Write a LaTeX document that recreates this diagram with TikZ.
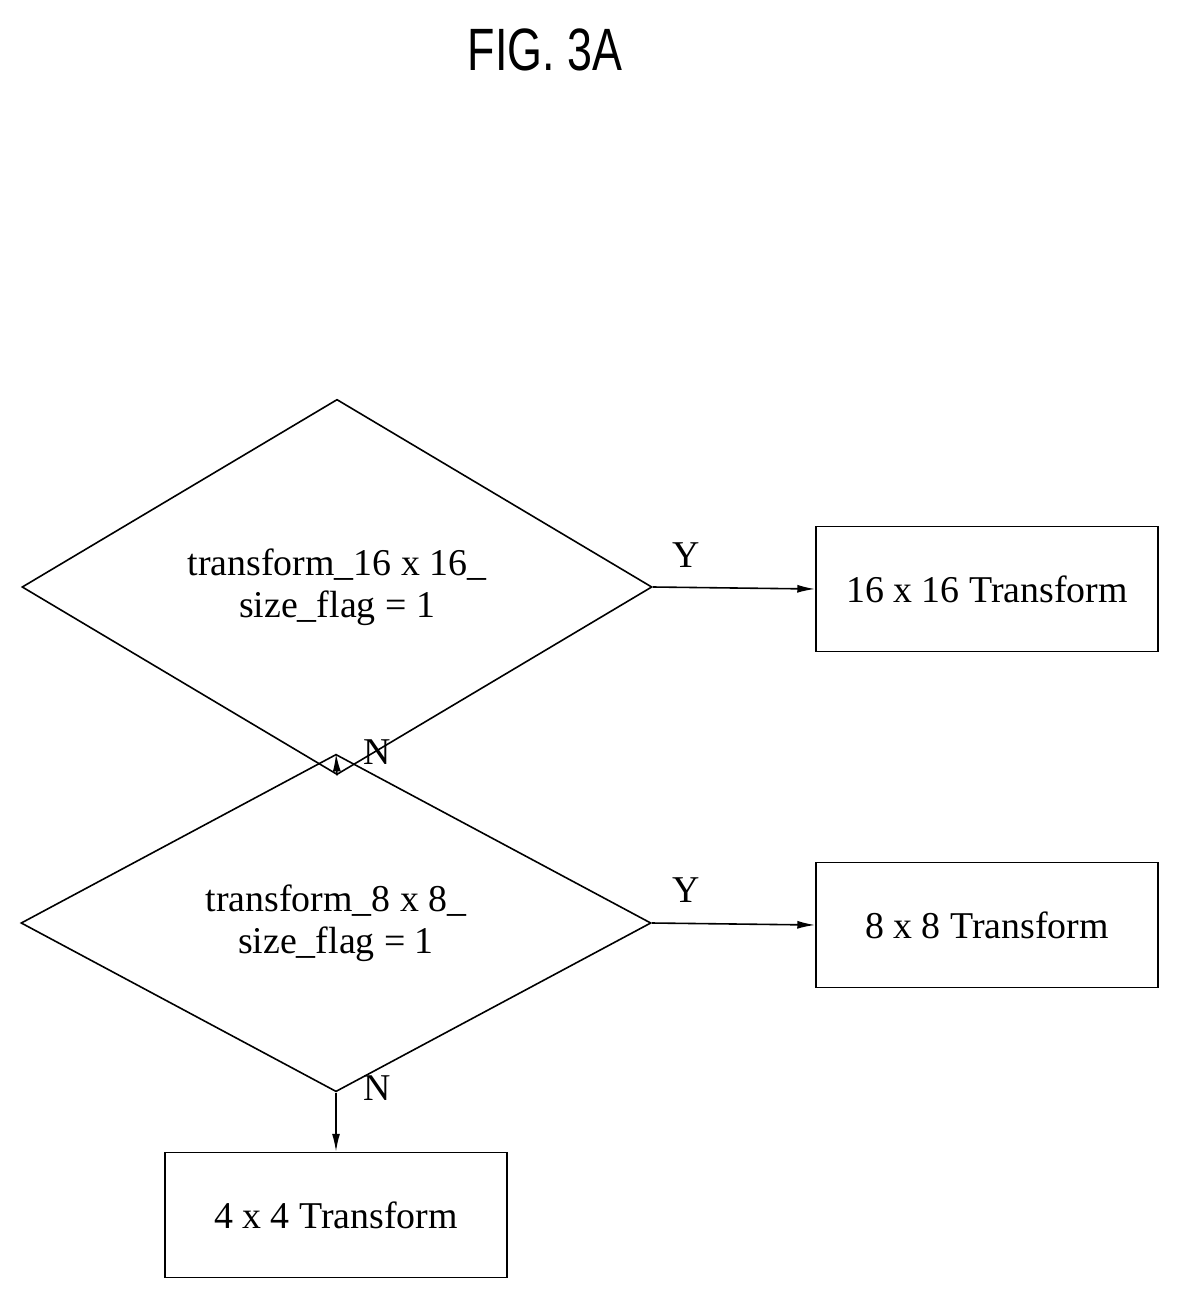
\documentclass[tikz,border=0pt]{standalone}
\usepackage{fontspec}
\setmainfont{Liberation Serif}
\newfontfamily\figfont{Liberation Sans}[FakeStretch=0.75]
\usetikzlibrary{shapes.geometric,arrows.meta}
\begin{document}
\begin{tikzpicture}[x=0.5bp,y=-0.5bp,
	decision/.style={diamond,draw,line width=0.8pt,inner sep=0pt,minimum width=315bp,minimum height=106.5bp,align=center,font=\fontsize{19}{21}\selectfont},
	block/.style={rectangle,draw,line width=0.8pt,minimum width=171bp,minimum height=62.5bp,font=\fontsize{19}{21}\selectfont},
	flow/.style={-{Latex[length=9pt,width=4pt]},line width=0.8pt},
	branch/.style={font=\fontsize{19}{21}\selectfont}]
		\useasboundingbox (0,0) rectangle (1179,1301);
		% title
		\node[font=\figfont\fontsize{30}{32}\selectfont] (title) at (545,50) {FIG. 3A};
		% decisions
		\node[decision] (d16) at (337,587) {transform\_16 x 16\_\\size\_flag = 1};
		\node[decision] (d8) at (336,923) {transform\_8 x 8\_\\size\_flag = 1};
		% results
		\node[block] (t16) at (987,589) {16 x 16 Transform};
		\node[block] (t8) at (987,925) {8 x 8 Transform};
		\node[block] (t4) at (336,1215) {4 x 4 Transform};
		% connectors
		\draw[flow] (d16.east) -- (t16.west);
		\draw[flow] (d8.east) -- (t8.west);
		\draw[flow] (d16.south) -- (d8.north);
		\draw[flow] (d8.south) -- (t4.north);
		% branch labels
		\node[branch] (y16) at (686,555) {Y};
		\node[branch] (y8) at (686,890) {Y};
		\node[branch] (n16) at (377,752) {N};
		\node[branch] (n8) at (377,1088) {N};
	\end{tikzpicture}
\end{document}
